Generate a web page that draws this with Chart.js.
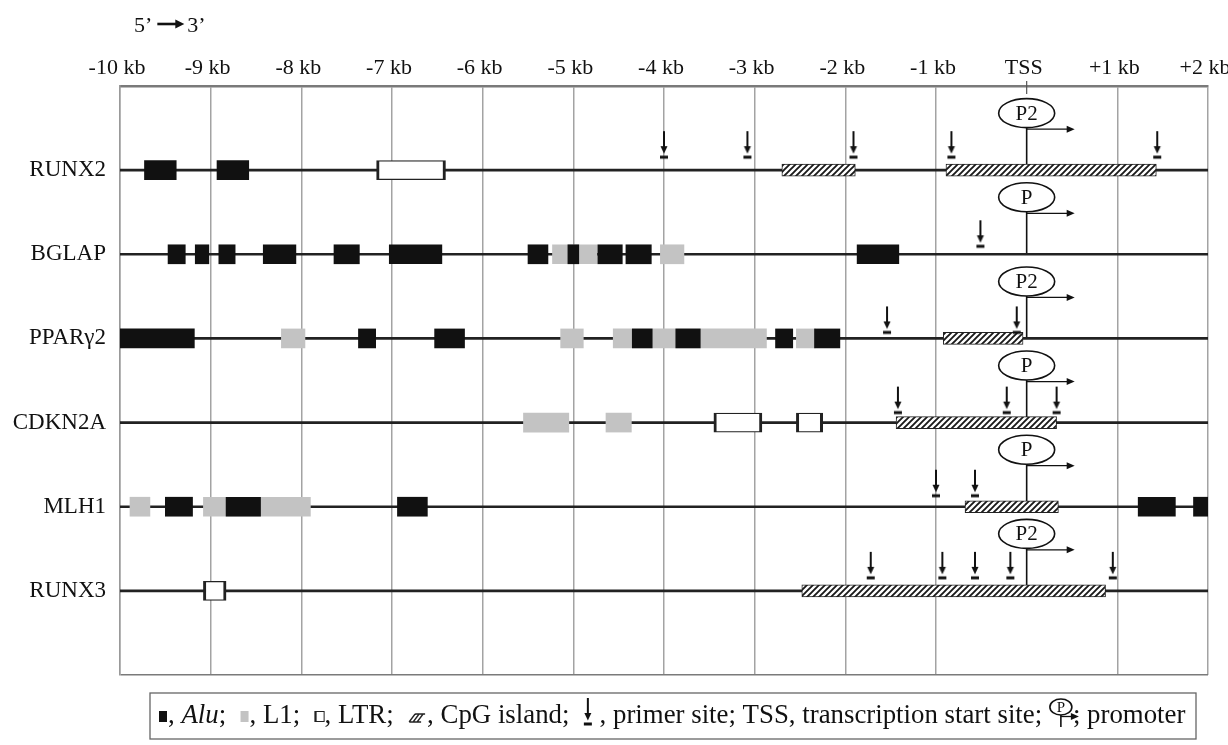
<!DOCTYPE html>
<html>
<head>
<meta charset="utf-8">
<title>Repeats and CpG islands around the TSS</title>
<script src="https://cdn.jsdelivr.net/npm/chart.js@4.4.1/dist/chart.umd.min.js"></script>
<style>
  html, body { margin: 0; background: #fff; }
  canvas { display: block; }
</style>
</head>
<body>
<canvas id="geneMap" width="1228" height="745"></canvas>
<script>
// Genes, top to bottom
const genes = ['RUNX2', 'BGLAP', 'PPARγ2', 'CDKN2A', 'MLH1', 'RUNX3'];

// Axis, in kb relative to the transcription start site
const kbRange = [-10, 2];
const tickLabels = ['-10 kb', '-9 kb', '-8 kb', '-7 kb', '-6 kb', '-5 kb', '-4 kb',
  '-3 kb', '-2 kb', '-1 kb', 'TSS', '+1 kb', '+2 kb'];
const tssKb = 0;

// [gene, start kb, end kb]
const aluRepeats = [
  ['RUNX2', -9.73, -9.38], ['RUNX2', -8.93, -8.58],
  ['BGLAP', -9.47, -9.28], ['BGLAP', -9.17, -9.02], ['BGLAP', -8.91, -8.73],
  ['BGLAP', -8.42, -8.06], ['BGLAP', -7.64, -7.36], ['BGLAP', -7.03, -6.45],
  ['BGLAP', -5.50, -5.28], ['BGLAP', -5.06, -4.94], ['BGLAP', -4.73, -4.46],
  ['BGLAP', -4.42, -4.14], ['BGLAP', -1.87, -1.41],
  ['PPARγ2', -10.0, -9.18], ['PPARγ2', -7.37, -7.18], ['PPARγ2', -6.53, -6.20],
  ['PPARγ2', -4.35, -4.13], ['PPARγ2', -3.87, -3.60], ['PPARγ2', -2.77, -2.58],
  ['PPARγ2', -2.34, -2.06],
  ['MLH1', -9.50, -9.20], ['MLH1', -8.83, -8.45], ['MLH1', -6.94, -6.61],
  ['MLH1', 1.23, 1.64], ['MLH1', 1.84, 2.0]
];
const l1Repeats = [
  ['BGLAP', -5.23, -4.74], ['BGLAP', -4.04, -3.78],
  ['PPARγ2', -8.22, -7.96], ['PPARγ2', -5.14, -4.89], ['PPARγ2', -4.56, -2.87],
  ['PPARγ2', -2.54, -2.33],
  ['CDKN2A', -5.55, -5.05], ['CDKN2A', -4.64, -4.36],
  ['MLH1', -9.89, -9.67], ['MLH1', -9.08, -7.90]
];
const ltrRepeats = [
  ['RUNX2', -7.17, -6.41],
  ['CDKN2A', -3.45, -2.92], ['CDKN2A', -2.54, -2.25],
  ['RUNX3', -9.08, -8.83]
];
const cpgIslands = [
  ['RUNX2', -2.70, -1.89], ['RUNX2', -0.89, 1.43],
  ['PPARγ2', -0.92, -0.04],
  ['CDKN2A', -1.44, 0.33],
  ['MLH1', -0.68, 0.35],
  ['RUNX3', -2.48, 0.87]
];
// [gene, kb]
const primerSites = [
  ['RUNX2', -4.0], ['RUNX2', -3.08], ['RUNX2', -1.91], ['RUNX2', -0.83], ['RUNX2', 1.44],
  ['BGLAP', -0.51],
  ['PPARγ2', -1.54], ['PPARγ2', -0.11],
  ['CDKN2A', -1.42], ['CDKN2A', -0.22], ['CDKN2A', 0.33],
  ['MLH1', -1.0], ['MLH1', -0.57],
  ['RUNX3', -1.72], ['RUNX3', -0.93], ['RUNX3', -0.57], ['RUNX3', -0.18], ['RUNX3', 0.95]
];
// [gene, promoter name]
const promoters = [
  ['RUNX2', 'P2'], ['BGLAP', 'P'], ['PPARγ2', 'P2'],
  ['CDKN2A', 'P'], ['MLH1', 'P'], ['RUNX3', 'P2']
];

// ---- styling ----
const serif = '"Liberation Serif", "Times New Roman", serif';
const rowLabels = ['', ...genes, ''];
// how far the primer bar sits above each gene line (px)
const primerLift = { 'RUNX2': 13, 'BGLAP': 8, 'PPARγ2': 6, 'CDKN2A': 10, 'MLH1': 11, 'RUNX3': 13 };

function hatchPattern() {
  const c = document.createElement('canvas');
  c.width = 6; c.height = 6;
  const g = c.getContext('2d');
  g.fillStyle = '#fff';
  g.fillRect(0, 0, 6, 6);
  g.strokeStyle = '#1a1a1a';
  g.lineWidth = 1.9;
  g.beginPath();
  g.moveTo(-1, 7); g.lineTo(7, -1);
  g.moveTo(-4, 4); g.lineTo(4, -4);
  g.moveTo(2, 10); g.lineTo(10, 2);
  g.stroke();
  return g.createPattern(c, 'repeat');
}
const hatch = hatchPattern();

function drawPrimer(g, cx, barY) {
  g.fillStyle = '#111';
  g.fillRect(cx - 4, barY - 1.5, 8, 3);
  g.fillRect(cx - 1, barY - 26, 2, 16);
  g.beginPath();
  g.moveTo(cx - 3.5, barY - 11);
  g.lineTo(cx + 3.5, barY - 11);
  g.lineTo(cx, barY - 3.5);
  g.closePath();
  g.fill();
}

function primerIcon(lift) {
  const w = 12, h = 2 * (lift + 30);
  const c = document.createElement('canvas');
  c.width = w; c.height = h;
  drawPrimer(c.getContext('2d'), w / 2, h / 2 - lift);
  return c;
}
const primerIcons = {};
genes.forEach(g => { primerIcons[g] = primerIcon(primerLift[g]); });

const toBars = list => list.map(([gene, s, e]) => ({ y: gene, x: [s, e] }));

function drawArrowHead(ctx, x, y, len, half) {
  ctx.beginPath();
  ctx.moveTo(x, y);
  ctx.lineTo(x - len, y - half);
  ctx.lineTo(x - len, y + half);
  ctx.closePath();
  ctx.fill();
}

function drawPromoter(ctx, px, py, name, rx, ry, fs, stemEnd, arrowLen) {
  ctx.save();
  ctx.strokeStyle = '#111';
  ctx.fillStyle = '#111';
  ctx.lineWidth = 1.6;
  // stem
  ctx.beginPath();
  ctx.moveTo(px, py + ry);
  ctx.lineTo(px, stemEnd);
  ctx.stroke();
  // arrow
  const ay = py + ry + 1.5;
  ctx.lineWidth = 1.3;
  ctx.beginPath();
  ctx.moveTo(px, ay);
  ctx.lineTo(px + arrowLen - 6, ay);
  ctx.stroke();
  drawArrowHead(ctx, px + arrowLen, ay, 8, 3.5);
  // ellipse
  ctx.lineWidth = 1.6;
  ctx.beginPath();
  ctx.ellipse(px, py, rx, ry, 0, 0, Math.PI * 2);
  ctx.fillStyle = '#fff';
  ctx.fill();
  ctx.stroke();
  ctx.fillStyle = '#111';
  ctx.font = fs + 'px ' + serif;
  ctx.textAlign = 'center';
  ctx.textBaseline = 'middle';
  ctx.fillText(name, px, py + 1);
  ctx.restore();
}

const promoterPlugin = {
  id: 'promoters',
  beforeDatasetsDraw(chart) {
    const { ctx, scales: { x, y } } = chart;
    const px = x.getPixelForValue(tssKb);
    promoters.forEach(([gene, name]) => {
      const lineY = y.getPixelForValue(rowLabels.indexOf(gene));
      drawPromoter(ctx, px, lineY - 57, name, 28, 14.5, 21, lineY, 48);
    });
  },
  afterDraw(chart) {
    const { ctx, chartArea, scales: { x } } = chart;
    // TSS tick on the top axis
    const px = x.getPixelForValue(tssKb);
    ctx.save();
    ctx.strokeStyle = '#555';
    ctx.lineWidth = 1.2;
    ctx.beginPath();
    ctx.moveTo(px, chartArea.top - 5);
    ctx.lineTo(px, chartArea.top + 8);
    ctx.stroke();
    // 5' -> 3' direction note
    ctx.fillStyle = '#111';
    ctx.strokeStyle = '#111';
    ctx.font = '22px ' + serif;
    ctx.textBaseline = 'alphabetic';
    let tx = 134;
    ctx.fillText('5’', tx, 32);
    tx += ctx.measureText('5’').width + 5;
    ctx.lineWidth = 2.6;
    ctx.beginPath();
    ctx.moveTo(tx, 24);
    ctx.lineTo(tx + 20, 24);
    ctx.stroke();
    drawArrowHead(ctx, tx + 27, 24, 9, 4.5);
    ctx.fillText('3’', tx + 30, 32);
    ctx.restore();
    drawLegend(ctx);
  }
};

function drawLegend(ctx) {
  const box = { x: 150, y: 693, w: 1046, h: 46 };
  ctx.save();
  ctx.strokeStyle = '#666';
  ctx.lineWidth = 1.3;
  ctx.strokeRect(box.x, box.y, box.w, box.h);

  const segs = [
    { icon: 'alu', w: 10 }, { t: ', ' }, { t: 'Alu', it: true }, { t: ';  ' },
    { icon: 'l1', w: 10 }, { t: ', L1;  ' },
    { icon: 'ltr', w: 11 }, { t: ', LTR;  ' },
    { icon: 'cpg', w: 20 }, { t: ', CpG island;  ' },
    { icon: 'primer', w: 10 }, { t: ' , primer site; TSS, transcription start site; ' },
    { icon: 'prom', w: 24 }, { t: '; promoter' }
  ];
  const fontOf = (s, fs) => (s.it ? 'italic ' : '') + fs + 'px ' + serif;
  const iconW = segs.filter(s => s.icon).reduce((a, s) => a + s.w, 0);
  const textW = fs => segs.reduce((sum, s) => {
    if (s.icon) return sum;
    ctx.font = fontOf(s, fs);
    return sum + ctx.measureText(s.t).width;
  }, 0);
  const fs = 21 * (box.w - 18 - iconW) / textW(21);

  let cx = box.x + 8;
  const base = box.y + 30;
  ctx.textBaseline = 'alphabetic';
  segs.forEach(s => {
    if (s.t !== undefined) {
      ctx.font = fontOf(s, fs);
      ctx.fillStyle = '#111';
      ctx.fillText(s.t, cx, base);
      cx += ctx.measureText(s.t).width;
      return;
    }
    const top = base - 12;
    if (s.icon === 'alu') {
      ctx.fillStyle = '#111';
      ctx.fillRect(cx + 1, top, 8, 11);
    } else if (s.icon === 'l1') {
      ctx.fillStyle = '#c3c3c3';
      ctx.fillRect(cx + 1, top, 8, 11);
    } else if (s.icon === 'ltr') {
      ctx.strokeStyle = '#222';
      ctx.lineWidth = 1;
      ctx.strokeRect(cx + 1.5, top + 0.5, 9, 10);
      ctx.fillStyle = '#222';
      ctx.fillRect(cx + 1, top, 2, 11);
    } else if (s.icon === 'cpg') {
      ctx.strokeStyle = '#222';
      ctx.lineWidth = 1.3;
      ctx.beginPath();
      for (let i = 0; i < 3; i++) {
        ctx.moveTo(cx + 2 + i * 4, top + 11);
        ctx.lineTo(cx + 8 + i * 4, top + 3);
      }
      ctx.moveTo(cx + 2, top + 11); ctx.lineTo(cx + 14, top + 11);
      ctx.moveTo(cx + 8, top + 3); ctx.lineTo(cx + 18, top + 3);
      ctx.stroke();
    } else if (s.icon === 'primer') {
      drawPrimer(ctx, cx + 5, base + 1);
    } else if (s.icon === 'prom') {
      drawPromoter(ctx, cx + 12, top - 4, 'P', 11, 8, 15, base + 4, 18);
    }
    cx += s.w;
  });
  ctx.restore();
}

const ctx = document.getElementById('geneMap').getContext('2d');
new Chart(ctx, {
  type: 'bar',
  data: {
    datasets: [
      {
        label: 'Primer site',
        type: 'scatter',
        indexAxis: 'x',
        data: primerSites.map(([gene, kb]) => ({ x: kb, y: gene })),
        pointStyle: c => primerIcons[primerSites[c.dataIndex][0]],
        pointRadius: 10,
        order: 1
      },
      {
        label: 'CpG island',
        data: toBars(cpgIslands),
        backgroundColor: hatch,
        borderColor: '#222',
        borderWidth: 1,
        borderSkipped: false,
        barThickness: 12,
        order: 2
      },
      {
        label: 'Alu',
        data: toBars(aluRepeats),
        backgroundColor: '#111',
        borderWidth: 0,
        barThickness: 19,
        order: 3
      },
      {
        label: 'LTR',
        data: toBars(ltrRepeats),
        backgroundColor: '#fff',
        borderColor: '#222',
        borderWidth: { left: 3, right: 3, top: 1.2, bottom: 1.2 },
        borderSkipped: false,
        barThickness: 19,
        order: 3
      },
      {
        label: 'L1',
        data: toBars(l1Repeats),
        backgroundColor: '#c3c3c3',
        borderWidth: 0,
        barThickness: 19,
        order: 4
      },
      {
        label: 'gene',
        data: genes.map(g => ({ y: g, x: kbRange })),
        backgroundColor: '#222',
        borderWidth: 0,
        barThickness: 2,
        order: 9
      }
    ]
  },
  options: {
    indexAxis: 'y',
    responsive: false,
    animation: false,
    events: [],
    layout: { padding: { left: 10, right: 20, top: 26, bottom: 70 } },
    datasets: { bar: { grouped: false } },
    plugins: {
      legend: { display: false },
      tooltip: { enabled: false }
    },
    scales: {
      x: {
        type: 'linear',
        position: 'top',
        min: kbRange[0],
        max: kbRange[1],
        offset: false,
        ticks: {
          stepSize: 1,
          autoSkip: false,
          maxRotation: 0,
          padding: 5,
          labelOffset: -3,
          color: '#111',
          font: { family: serif, size: 22 },
          callback: v => tickLabels[Math.round(v - kbRange[0])]
        },
        grid: {
          offset: false,
          drawTicks: false,
          lineWidth: 1.5,
          color: c => (c.tick && c.tick.value === tssKb) ? 'rgba(0,0,0,0)' : '#a3a3a3'
        },
        border: { display: true, color: '#7a7a7a', width: 2.5 },
        afterFit: s => { s.height = 60; s.paddingLeft = 0; s.paddingRight = 0; }
      },
      y: {
        type: 'category',
        labels: rowLabels,
        offset: false,
        ticks: {
          autoSkip: false,
          padding: 14,
          color: '#111',
          font: { family: serif, size: 23 }
        },
        grid: {
          offset: false,
          drawTicks: false,
          lineWidth: 1.5,
          color: c => c.index === rowLabels.length - 1 ? '#7a7a7a' : 'rgba(0,0,0,0)'
        },
        border: { display: true, color: '#999', width: 1.5 },
        afterFit: s => { s.width = 110; s.paddingTop = 0; s.paddingBottom = 0; }
      }
    }
  },
  plugins: [promoterPlugin]
});
</script>
</body>
</html>
